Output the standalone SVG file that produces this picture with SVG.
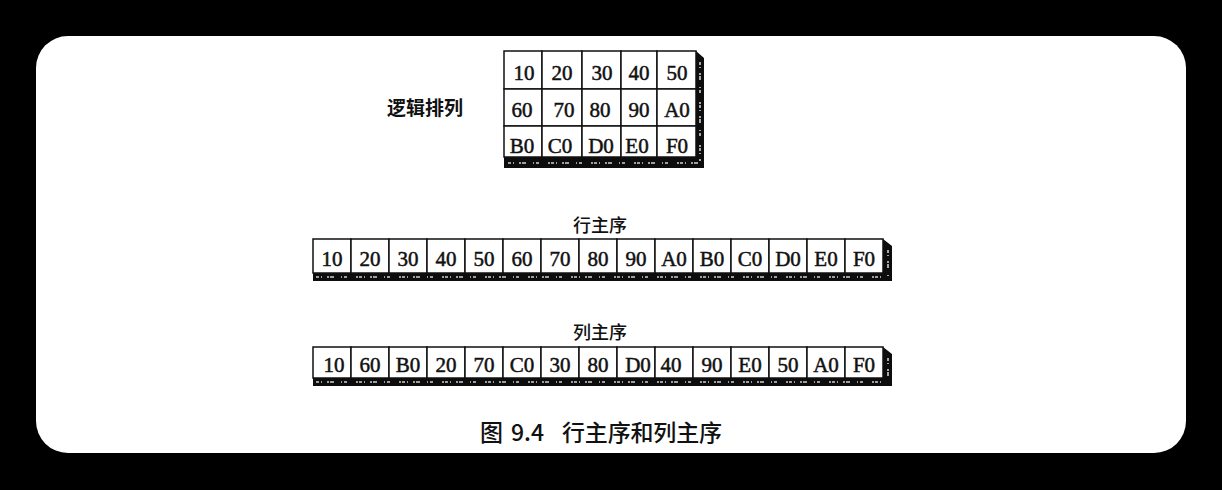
<svg xmlns="http://www.w3.org/2000/svg" width="1222" height="490" viewBox="0 0 1222 490">
<style>
.cell{fill:#fff;stroke:#111;stroke-width:1.5}
.num{font-family:"Liberation Serif",serif;font-size:21px;fill:#111;text-anchor:middle;stroke:#111;stroke-width:0.5}
.ext{fill:#0d0d0d}
.tex{stroke:#cfcfcf;stroke-width:1.6;fill:none;stroke-dasharray:3 2 1 5 2 1 4 7 1 2 3 9 2 1}
.lbl{font-family:"Noto Sans CJK SC","Noto Sans",sans-serif;fill:#111}
</style>
<rect width="1222" height="490" fill="#000"/>
<rect x="36" y="36" width="1150" height="417" rx="32" fill="#fff"/>

<g id="label-logical"><text class="lbl" x="425" y="115" font-size="19" font-weight="bold" text-anchor="middle">逻辑排列</text></g>
<g id="label-row"><text class="lbl" x="600" y="232" font-size="18" font-weight="500" text-anchor="middle">行主序</text></g>
<g id="label-col"><text class="lbl" x="600" y="339" font-size="18" font-weight="500" text-anchor="middle">列主序</text></g>

<g id="logical-grid">
<polygon class="ext" points="504,157 696,157 696,51 704,58 704,168 504,168"/>
<line class="tex" x1="508" y1="163" x2="698" y2="163"/>
<line class="tex" x1="700" y1="62" x2="700" y2="162"/>
<g id="c-10"><rect class="cell" x="504" y="51" width="38" height="38"/><text class="num" x="524" y="80">10</text></g>
<g id="c-20"><rect class="cell" x="542" y="51" width="40" height="38"/><text class="num" x="562" y="80">20</text></g>
<g id="c-30"><rect class="cell" x="582" y="51" width="39" height="38"/><text class="num" x="602" y="80">30</text></g>
<g id="c-40"><rect class="cell" x="621" y="51" width="36" height="38"/><text class="num" x="639" y="80">40</text></g>
<g id="c-50"><rect class="cell" x="657" y="51" width="39" height="38"/><text class="num" x="677" y="80">50</text></g>
<g id="c-60"><rect class="cell" x="504" y="89" width="38" height="37"/><text class="num" x="522" y="117">60</text></g>
<g id="c-70"><rect class="cell" x="542" y="89" width="40" height="37"/><text class="num" x="564" y="117">70</text></g>
<g id="c-80"><rect class="cell" x="582" y="89" width="39" height="37"/><text class="num" x="600" y="117">80</text></g>
<g id="c-90"><rect class="cell" x="621" y="89" width="36" height="37"/><text class="num" x="639" y="117">90</text></g>
<g id="c-A0"><rect class="cell" x="657" y="89" width="39" height="37"/><text class="num" x="677" y="117">A0</text></g>
<g id="c-B0"><rect class="cell" x="504" y="126" width="38" height="31"/><text class="num" x="522" y="153">B0</text></g>
<g id="c-C0"><rect class="cell" x="542" y="126" width="40" height="31"/><text class="num" x="560" y="153">C0</text></g>
<g id="c-D0"><rect class="cell" x="582" y="126" width="39" height="31"/><text class="num" x="601" y="153">D0</text></g>
<g id="c-E0"><rect class="cell" x="621" y="126" width="36" height="31"/><text class="num" x="637" y="153">E0</text></g>
<g id="c-F0"><rect class="cell" x="657" y="126" width="39" height="31"/><text class="num" x="677" y="153">F0</text></g>
</g>

<g id="row-major">
<polygon class="ext" points="313,273 883,273 883,239 892,246 892,281 313,281"/>
<line class="tex" x1="316" y1="277" x2="886" y2="277"/>
<line class="tex" x1="888" y1="250" x2="888" y2="276"/>
<g id="r-10"><rect class="cell" x="313" y="239" width="38" height="34"/><text class="num" x="332" y="266">10</text></g>
<g id="r-20"><rect class="cell" x="351" y="239" width="38" height="34"/><text class="num" x="370" y="266">20</text></g>
<g id="r-30"><rect class="cell" x="389" y="239" width="38" height="34"/><text class="num" x="408" y="266">30</text></g>
<g id="r-40"><rect class="cell" x="427" y="239" width="38" height="34"/><text class="num" x="446" y="266">40</text></g>
<g id="r-50"><rect class="cell" x="465" y="239" width="38" height="34"/><text class="num" x="484" y="266">50</text></g>
<g id="r-60"><rect class="cell" x="503" y="239" width="38" height="34"/><text class="num" x="522" y="266">60</text></g>
<g id="r-70"><rect class="cell" x="541" y="239" width="38" height="34"/><text class="num" x="560" y="266">70</text></g>
<g id="r-80"><rect class="cell" x="579" y="239" width="38" height="34"/><text class="num" x="598" y="266">80</text></g>
<g id="r-90"><rect class="cell" x="617" y="239" width="38" height="34"/><text class="num" x="636" y="266">90</text></g>
<g id="r-A0"><rect class="cell" x="655" y="239" width="38" height="34"/><text class="num" x="674" y="266">A0</text></g>
<g id="r-B0"><rect class="cell" x="693" y="239" width="38" height="34"/><text class="num" x="712" y="266">B0</text></g>
<g id="r-C0"><rect class="cell" x="731" y="239" width="38" height="34"/><text class="num" x="750" y="266">C0</text></g>
<g id="r-D0"><rect class="cell" x="769" y="239" width="38" height="34"/><text class="num" x="788" y="266">D0</text></g>
<g id="r-E0"><rect class="cell" x="807" y="239" width="38" height="34"/><text class="num" x="826" y="266">E0</text></g>
<g id="r-F0"><rect class="cell" x="845" y="239" width="38" height="34"/><text class="num" x="864" y="266">F0</text></g>
</g>

<g id="col-major">
<polygon class="ext" points="313,378 883,378 883,347 892,354 892,386 313,386"/>
<line class="tex" x1="316" y1="382" x2="886" y2="382"/>
<line class="tex" x1="888" y1="358" x2="888" y2="380"/>
<g id="k-10"><rect class="cell" x="313" y="347" width="38" height="31"/><text class="num" x="334" y="372">10</text></g>
<g id="k-60"><rect class="cell" x="351" y="347" width="38" height="31"/><text class="num" x="370" y="372">60</text></g>
<g id="k-B0"><rect class="cell" x="389" y="347" width="38" height="31"/><text class="num" x="408" y="372">B0</text></g>
<g id="k-20"><rect class="cell" x="427" y="347" width="38" height="31"/><text class="num" x="446" y="372">20</text></g>
<g id="k-70"><rect class="cell" x="465" y="347" width="38" height="31"/><text class="num" x="484" y="372">70</text></g>
<g id="k-C0"><rect class="cell" x="503" y="347" width="38" height="31"/><text class="num" x="522" y="372">C0</text></g>
<g id="k-30"><rect class="cell" x="541" y="347" width="38" height="31"/><text class="num" x="560" y="372">30</text></g>
<g id="k-80"><rect class="cell" x="579" y="347" width="38" height="31"/><text class="num" x="598" y="372">80</text></g>
<g id="k-D0"><rect class="cell" x="617" y="347" width="38" height="31"/><text class="num" x="638" y="372">D0</text></g>
<g id="k-40"><rect class="cell" x="655" y="347" width="38" height="31"/><text class="num" x="671" y="372">40</text></g>
<g id="k-90"><rect class="cell" x="693" y="347" width="38" height="31"/><text class="num" x="712" y="372">90</text></g>
<g id="k-E0"><rect class="cell" x="731" y="347" width="38" height="31"/><text class="num" x="750" y="372">E0</text></g>
<g id="k-50"><rect class="cell" x="769" y="347" width="38" height="31"/><text class="num" x="788" y="372">50</text></g>
<g id="k-A0"><rect class="cell" x="807" y="347" width="38" height="31"/><text class="num" x="826" y="372">A0</text></g>
<g id="k-F0"><rect class="cell" x="845" y="347" width="38" height="31"/><text class="num" x="864" y="372">F0</text></g>
</g>

<g id="connectors"></g>

<g id="caption"><text class="lbl" y="441" font-size="23" font-weight="500"><tspan x="480">图</tspan><tspan x="511">9.4</tspan><tspan x="562" textLength="160" lengthAdjust="spacing">行主序和列主序</tspan></text></g>
</svg>
